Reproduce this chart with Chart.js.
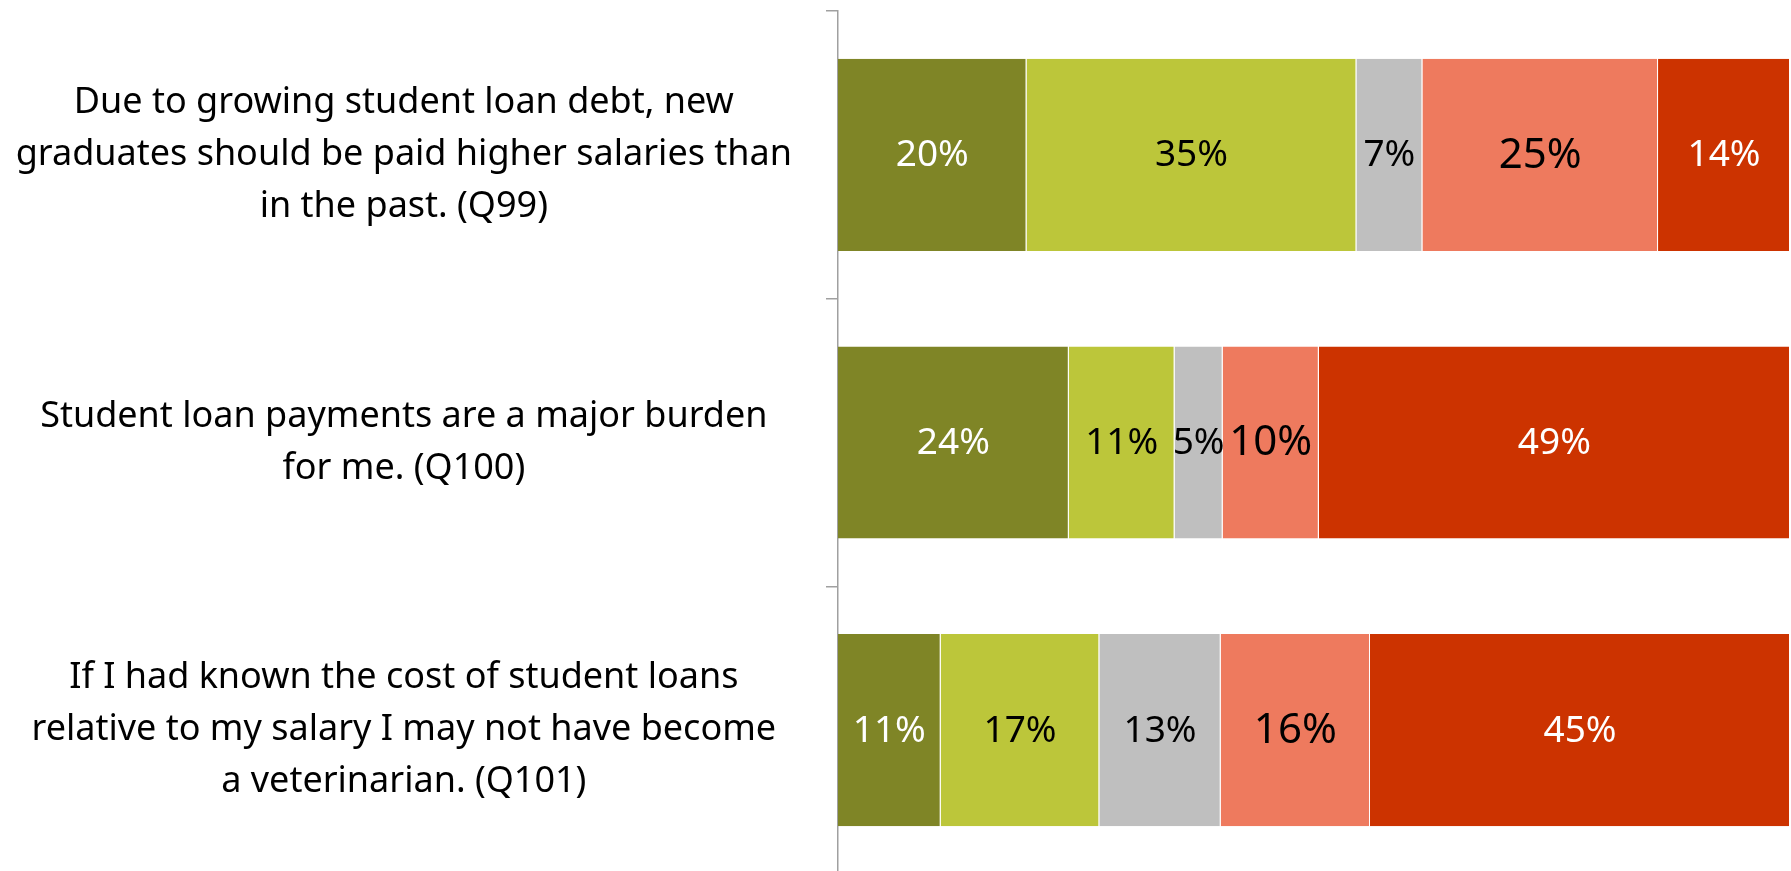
<!DOCTYPE html>
<html lang="en">
<head>
<meta charset="UTF-8">
<title>Student loan attitudes (Q99-Q101)</title>
<script src="https://cdn.jsdelivr.net/npm/chart.js"></script>
<style>
  html, body { margin: 0; padding: 0; background: #fff; overflow: hidden; }
  #wrap { width: 1791px; height: 874px; position: relative; }
</style>
</head>
<body>
<div id="wrap"><canvas id="chart"></canvas></div>
<script>
// categories (one per statement, already split into lines)
const statements = [
  ['Due to growing student loan debt, new', 'graduates should be paid higher salaries than', 'in the past. (Q99)'],
  ['Student loan payments are a major burden', 'for me. (Q100)'],
  ['If I had known the cost of student loans', 'relative to my salary I may not have become', 'a veterinarian. (Q101)']
];

// series values, in % as printed on the bars
const responses = ['Strongly disagree', 'Disagree', 'Neutral', 'Agree', 'Strongly agree'];
const stronglyDisagree = [20, 24, 11];
const disagree         = [35, 11, 17];
const neutral          = [7, 5, 13];
const agree            = [25, 10, 16];
const stronglyAgree    = [14, 49, 45];

const series = [stronglyDisagree, disagree, neutral, agree, stronglyAgree];
const colors = ['#7f8526', '#bcc63a', '#bfbfbf', '#ee7a5e', '#cc3300'];
const labelColors = ['#fff', '#000', '#000', '#000', '#fff'];
const labelSizes = [37, 37, 37, 42, 37];

// 100% stacked: each row is scaled to its own total
const totals = statements.map((_, j) => series.reduce((s, arr) => s + arr[j], 0));

const datasets = series.map((arr, i) => ({
  label: responses[i],
  raw: arr,
  data: arr.map((v, j) => v / totals[j] * 100),
  backgroundColor: colors[i],
  borderColor: 'rgba(255,255,255,0.8)',
  borderWidth: { top: 0, bottom: 0, left: 0, right: 1 },
  borderSkipped: false,
  categoryPercentage: 1,
  barPercentage: 0.668
}));

// labels in the middle of every segment
const barLabels = {
  id: 'barLabels',
  afterDatasetsDraw(chart) {
    const ctx = chart.ctx;
    chart.data.datasets.forEach((ds, i) => {
      chart.getDatasetMeta(i).data.forEach((bar, j) => {
        const p = bar.getCenterPoint();
        ctx.save();
        ctx.font = labelSizes[i] + 'px "Noto Sans"';
        ctx.fillStyle = labelColors[i];
        ctx.textAlign = 'center';
        ctx.textBaseline = 'middle';
        ctx.fillText(ds.raw[j] + '%', p.x, p.y + 1);
        ctx.restore();
      });
    });
  }
};

new Chart(document.getElementById('chart'), {
  type: 'bar',
  data: { labels: statements, datasets: datasets },
  options: {
    indexAxis: 'y',
    responsive: true,
    maintainAspectRatio: false,
    animation: false,
    layout: { padding: { top: 11, right: 1, bottom: 0, left: 0 } },
    plugins: { legend: { display: false }, tooltip: { enabled: false } },
    scales: {
      x: { stacked: true, min: 0, max: 100, display: false },
      y: {
        stacked: true,
        afterFit: s => {
          s.width = 838;
          s.paddingTop = 0;
          s.paddingBottom = 0;
        },
        grid: { offset: true, drawOnChartArea: false, tickLength: 12, color: '#a0a0a0', lineWidth: 1.5 },
        border: { color: '#a0a0a0', width: 1.5 },
        ticks: {
          crossAlign: 'center',
          padding: 34,
          color: '#000',
          font: { family: '"Noto Sans"', size: 36, lineHeight: '52px' }
        }
      }
    }
  },
  plugins: [barLabels]
});
</script>
</body>
</html>
